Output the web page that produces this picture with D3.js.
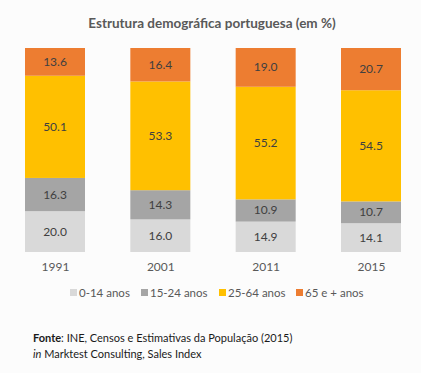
<!DOCTYPE html>
<html>
<head>
<meta charset="utf-8">
<style>
    body { margin: 0; background: #fcfcfc; }
    svg { display: block; font-family: Lato, "Open Sans", sans-serif; }
</style>
</head>
<body>
<svg id="chart" width="421" height="373"></svg>
<script src="https://d3js.org/d3.v7.min.js"></script>
<script>
    // data
    var years = ['1991', '2001', '2011', '2015'];
    var groups = ['0-14 anos', '15-24 anos', '25-64 anos', '65 e + anos'];
    var age0_14 = [20.0, 16.0, 14.9, 14.1];
    var age15_24 = [16.3, 14.3, 10.9, 10.7];
    var age25_64 = [50.1, 53.3, 55.2, 54.5];
    var age65 = [13.6, 16.4, 19.0, 20.7];
    var colors = ['#d9d9d9', '#a5a5a5', '#ffc000', '#ed7d31'];

    var series = [age0_14, age15_24, age25_64, age65];
    var rows = years.map(function(y, i) {
        var r = {year: y};
        groups.forEach(function(g, j) { r[g] = series[j][i]; });
        return r;
    });

    var svg = d3.select('#chart');
    var plotTop = 48,
        plotBottom = 252,
        barWidth = 60;

    // centre of each bar
    var x = d3.scalePoint().domain(years).range([55, 371]);
    var y = d3.scaleLinear().domain([0, 100]).range([plotBottom, plotTop]);

    var layers = d3.stack().keys(groups)(rows);

    svg.append('text')
        .attr('x', 212).attr('y', 28)
        .attr('text-anchor', 'middle')
        .attr('font-size', 13.5).attr('font-weight', 'bold')
        .attr('fill', '#595959')
        .text('Estrutura demográfica portuguesa (em %)');

    var g = svg.selectAll('g.layer')
        .data(layers)
        .enter().append('g')
        .attr('class', 'layer')
        .attr('fill', function(d, i) { return colors[i]; });

    g.selectAll('rect')
        .data(function(d) { return d; })
        .enter().append('rect')
        .attr('x', function(d) { return x(d.data.year) - barWidth / 2; })
        .attr('width', barWidth)
        .attr('y', function(d) { return y(d[1]); })
        .attr('height', function(d) { return y(d[0]) - y(d[1]); });

    g.selectAll('text')
        .data(function(d) { return d; })
        .enter().append('text')
        .attr('x', function(d) { return x(d.data.year); })
        .attr('y', function(d) { return (y(d[0]) + y(d[1])) / 2 + 4; })
        .attr('text-anchor', 'middle')
        .attr('font-size', 12)
        .attr('fill', '#404040')
        .text(function(d) { return d3.format('.1f')(d[1] - d[0]); });

    var xAxis = svg.append('g')
        .attr('transform', 'translate(0,' + plotBottom + ')')
        .call(d3.axisBottom(x).tickSize(0).tickPadding(10));
    xAxis.select('.domain').remove();
    xAxis.selectAll('text')
        .attr('font-family', 'Lato, "Open Sans", sans-serif')
        .attr('font-size', 12).attr('fill', '#595959');

    // legend
    var legendX = [70, 141, 219, 296];
    var legend = svg.selectAll('g.legend')
        .data(groups)
        .enter().append('g')
        .attr('class', 'legend')
        .attr('transform', function(d, i) { return 'translate(' + legendX[i] + ',289)'; });
    legend.append('rect')
        .attr('width', 7).attr('height', 7)
        .attr('fill', function(d, i) { return colors[i]; });
    legend.append('text')
        .attr('x', 9).attr('y', 8)
        .attr('font-size', 11.5).attr('fill', '#595959')
        .text(function(d) { return d; });

    // source
    var src = svg.append('text')
        .attr('x', 33).attr('y', 342)
        .attr('font-size', 11).attr('fill', '#1a1a1a');
    src.append('tspan').attr('font-weight', 'bold').text('Fonte');
    src.append('tspan').text(': INE, Censos e Estimativas da População (2015)');
    var src2 = svg.append('text')
        .attr('x', 33).attr('y', 358)
        .attr('font-size', 11).attr('fill', '#1a1a1a');
    src2.append('tspan').attr('font-style', 'italic').text('in');
    src2.append('tspan').text(' Marktest Consulting, Sales Index');
</script>
</body>
</html>
